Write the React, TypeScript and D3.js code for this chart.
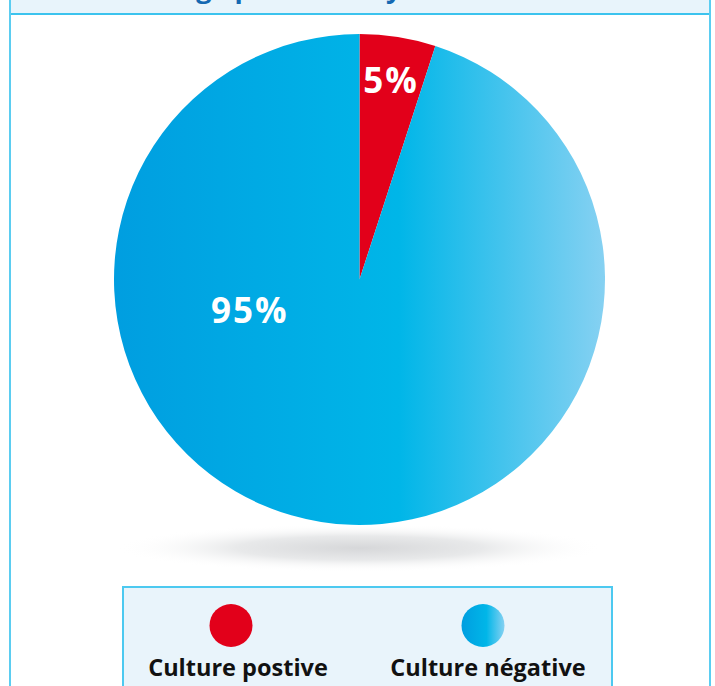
import * as d3 from "d3";

const categories = ["Culture postive", "Culture négative"];
const values = [5, 95];
const labels = ["5%", "95%"];
const titleText = "Pourcentage positif analysé";

const W = 715;
const H = 686;
const cx = 359.5;
const cy = 279.5;
const R = 245.5;

export default function App() {
  const pie = d3.pie<number>().sort(null).value(d => d);
  const arcs = pie(values);
  const arc = d3.arc<d3.PieArcDatum<number>>().innerRadius(0).outerRadius(R);
  const labelArc = d3.arc<d3.PieArcDatum<number>>().innerRadius(R * 0.82).outerRadius(R * 0.82);

  const fills = ["#e2001a", "url(#blueGrad)"];

  // small slice label sits on the centroid, the big one is pushed to the left
  const labelPos = (d: d3.PieArcDatum<number>, i: number) => {
    if (i === 0) return labelArc.centroid(d);
    return d3.pointRadial((254 * Math.PI) / 180, R * 0.465);
  };

  const legendX = d3.scalePoint<string>()
    .domain(categories)
    .range([238, 488]);

  return (
    <svg
      width={W}
      height={H}
      style={{ position: "absolute", left: 0, top: 0 }}
      fontFamily="'Open Sans', 'DejaVu Sans', sans-serif"
    >
      <defs>
        <linearGradient id="blueGrad" gradientUnits="userSpaceOnUse" x1={-R} x2={R} y1={0} y2={0}>
          <stop offset="0%" stopColor="#009ee0" />
          <stop offset="58%" stopColor="#00b6e8" />
          <stop offset="100%" stopColor="#86d1f2" />
        </linearGradient>
        <linearGradient id="dotGrad" x1="0" x2="1" y1="0" y2="0">
          <stop offset="0%" stopColor="#009ee0" />
          <stop offset="58%" stopColor="#00b6e8" />
          <stop offset="100%" stopColor="#86d1f2" />
        </linearGradient>
        <radialGradient id="shadowGrad" cx="50%" cy="50%" r="50%">
          <stop offset="0%" stopColor="#d6d7d9" />
          <stop offset="50%" stopColor="#e8e9ea" />
          <stop offset="100%" stopColor="#ffffff" stopOpacity="0" />
        </radialGradient>
      </defs>

      <rect x={0} y={0} width={W} height={H} fill="#ffffff" />

      {/* title bar, cut off at the top of the picture */}
      <rect x={10} y={0} width={700} height={14} fill="#e8f4fb" />
      <text x={57} y={-2} fontSize="27" fontWeight="700" fill="#1569b2">{titleText}</text>
      <line x1={9} x2={711} y1={14} y2={14} stroke="#3cc3ee" strokeWidth={2} />

      {/* frame */}
      <line x1={10} x2={10} y1={0} y2={H} stroke="#5bcdf1" strokeWidth={2} />
      <line x1={710} x2={710} y1={0} y2={H} stroke="#5bcdf1" strokeWidth={2} />

      {/* shadow */}
      <ellipse cx={cx} cy={548} rx={245} ry={24} fill="url(#shadowGrad)" />

      {/* pie */}
      <g transform={`translate(${cx},${cy})`}>
        {arcs.map((d, i) => (
          <path key={i} d={arc(d) as string} fill={fills[i]} />
        ))}
        {arcs.map((d, i) => {
          const [lx, ly] = labelPos(d, i);
          return (
            <text
              key={"l" + i}
              x={lx}
              y={ly + 12}
              textAnchor="middle"
              fontSize="35"
              fontWeight="700"
              letterSpacing="2"
              fill="#ffffff"
            >
              {labels[i]}
            </text>
          );
        })}
      </g>

      {/* legend */}
      <rect x={123} y={587} width={489} height={120} fill="#e9f4fb" stroke="#4cc9f0" strokeWidth={2} />
      {categories.map((c, i) => (
        <g key={c}>
          <circle cx={i === 0 ? 231 : 483} cy={625.5} r={21.5} fill={i === 0 ? "#e2001a" : "url(#dotGrad)"} />
          <text
            x={legendX(c)}
            y={676}
            textAnchor="middle"
            fontSize="23.5"
            fontWeight="700"
            fill="#111111"
          >
            {c}
          </text>
        </g>
      ))}
    </svg>
  );
}
